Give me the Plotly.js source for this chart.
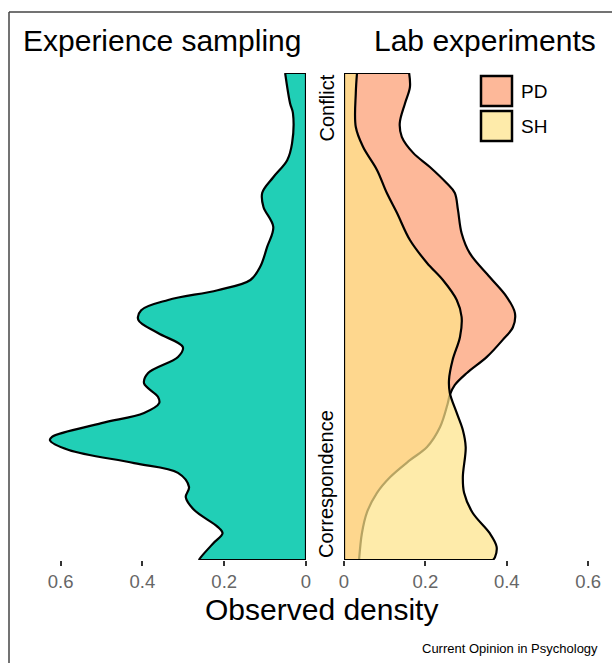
<!DOCTYPE html>
<html>
<head>
<meta charset="utf-8">
<script src="https://cdn.plot.ly/plotly-3.0.1.min.js"></script>
<style>html,body{margin:0;padding:0;background:#fff;}#chart{width:612px;height:663px;}</style>
</head>
<body>
<div id="chart"></div>
<script>
// Level axis: 0 = Correspondence (bottom), 1 = Conflict (top)
const esLevel = [1.000,0.938,0.918,0.856,0.821,0.786,0.754,0.725,0.684,0.643,0.602,0.575,0.554,0.534,0.513,0.493,0.466,0.437,0.417,0.384,0.363,0.335,0.322,0.302,0.281,0.253,0.246,0.226,0.199,0.179,0.150,0.129,0.103,0.068,0.055,0.035,0.006,0.000];
const esDensity = [0.051,0.039,0.032,0.034,0.046,0.080,0.107,0.104,0.080,0.095,0.112,0.136,0.216,0.337,0.403,0.410,0.362,0.301,0.313,0.386,0.396,0.362,0.359,0.396,0.500,0.621,0.626,0.580,0.420,0.313,0.286,0.294,0.274,0.216,0.204,0.226,0.257,0.262];

const pdLevel = [1.000,0.971,0.938,0.897,0.869,0.836,0.807,0.774,0.754,0.719,0.671,0.630,0.581,0.540,0.507,0.478,0.452,0.417,0.384,0.359,0.339,0.322,0.273,0.232,0.205,0.170,0.138,0.097,0.055,0.000];
const pdDensity = [0.160,0.162,0.150,0.137,0.142,0.170,0.211,0.252,0.272,0.280,0.289,0.309,0.358,0.400,0.420,0.415,0.390,0.351,0.302,0.272,0.260,0.255,0.236,0.204,0.162,0.113,0.081,0.056,0.044,0.037];

const shLevel = [1.000,0.959,0.889,0.848,0.801,0.754,0.713,0.657,0.610,0.575,0.534,0.499,0.458,0.411,0.370,0.343,0.302,0.267,0.232,0.170,0.138,0.097,0.055,0.027,0.006,0.000];
const shDensity = [0.032,0.029,0.029,0.047,0.081,0.105,0.130,0.162,0.204,0.243,0.277,0.289,0.285,0.267,0.258,0.260,0.277,0.292,0.299,0.292,0.295,0.316,0.358,0.375,0.371,0.366];

const tickVals = [0, 0.2, 0.4, 0.6];
const tickText = ["0", "0.2", "0.4", "0.6"];
const panelTitles = ["Experience sampling", "Lab experiments"];
const levelLabels = ["Conflict", "Correspondence"];
const groupNames = ["PD", "SH"];

const W = 612, H = 663;
const px = v => v / W;
const py = v => 1 - v / H;
const FONT = "Liberation Sans, Arial, Helvetica, sans-serif";

const teal = "rgb(33,207,182)";
const pdFill = "rgb(253,184,153)";
const shFill = "rgba(254,227,137,0.72)";

function curve(x, y, xa, fillcolor) {
  return {x: x, y: y, xaxis: xa, yaxis: "y", type: "scatter", mode: "lines",
    fill: "tozerox", fillcolor: fillcolor,
    line: {color: "#000", width: 2.2, shape: "spline", smoothing: 1},
    hoverinfo: "skip", showlegend: false};
}
function edges(x, y, xa) {
  return {x: [x[0], 0, 0, x[x.length - 1]], y: [y[0], y[0], y[y.length - 1], y[y.length - 1]],
    xaxis: xa, yaxis: "y", type: "scatter", mode: "lines",
    line: {color: "#000", width: 2.2}, hoverinfo: "skip", showlegend: false};
}

const data = [
  curve(esDensity, esLevel, "x", teal),
  edges(esDensity, esLevel, "x"),
  curve(pdDensity, pdLevel, "x2", pdFill),
  edges(pdDensity, pdLevel, "x2"),
  curve(shDensity, shLevel, "x2", shFill),
  edges(shDensity, shLevel, "x2")
];

const axisCommon = {
  tickmode: "array", tickvals: tickVals, ticktext: tickText,
  ticks: "outside", ticklen: 5, tickwidth: 2, tickcolor: "#333",
  tickfont: {family: FONT, size: 18.5, color: "#666"},
  showgrid: false, zeroline: false, showline: false, fixedrange: true,
  anchor: "y"
};

const layout = {
  width: W, height: H,
  margin: {l: 0, r: 0, t: 0, b: 0, autoexpand: false},
  paper_bgcolor: "#fff", plot_bgcolor: "rgba(0,0,0,0)",
  showlegend: false, hovermode: false,
  xaxis: Object.assign({}, axisCommon, {domain: [px(30), px(306)], range: [276 / 409, 0]}),
  xaxis2: Object.assign({}, axisCommon, {domain: [px(344), px(605)], range: [0, 261 / 407]}),
  yaxis: {domain: [py(560), py(73)], range: [0, 1], showticklabels: false, showgrid: false,
    zeroline: false, showline: false, ticks: "", anchor: "x", fixedrange: true},
  shapes: [
    {type: "line", xref: "paper", yref: "paper", x0: px(9), x1: 1, y0: py(12), y1: py(12), line: {color: "#444", width: 1.5}},
    {type: "line", xref: "paper", yref: "paper", x0: px(9), x1: px(9), y0: py(12), y1: 0, line: {color: "#444", width: 1.5}},
    {type: "rect", xref: "paper", yref: "paper", x0: px(481), x1: px(512), y0: py(76), y1: py(106), fillcolor: pdFill, line: {color: "#000", width: 2.5}},
    {type: "rect", xref: "paper", yref: "paper", x0: px(481), x1: px(512), y0: py(111), y1: py(141), fillcolor: "rgb(254,235,170)", line: {color: "#000", width: 2.5}}
  ],
  annotations: [
    {text: panelTitles[0], xref: "paper", yref: "paper", x: px(162), y: py(40), xanchor: "center", yanchor: "middle", showarrow: false, font: {family: FONT, size: 30, color: "#000"}},
    {text: panelTitles[1], xref: "paper", yref: "paper", x: px(485), y: py(40), xanchor: "center", yanchor: "middle", showarrow: false, font: {family: FONT, size: 30, color: "#000"}},
    {text: "Observed density", xref: "paper", yref: "paper", x: px(321), y: py(609), xanchor: "center", yanchor: "middle", showarrow: false, font: {family: FONT, size: 30, color: "#000"}},
    {text: levelLabels[0], xref: "paper", yref: "y", x: px(326), y: 1, xanchor: "center", yanchor: "top", textangle: -90, showarrow: false, font: {family: FONT, size: 20, color: "#000"}},
    {text: levelLabels[1], xref: "paper", yref: "y", x: px(326), y: 0, xanchor: "center", yanchor: "bottom", textangle: -90, showarrow: false, font: {family: FONT, size: 20, color: "#000"}},
    {text: groupNames[0], xref: "paper", yref: "paper", x: px(519), y: py(92), xanchor: "left", yanchor: "middle", showarrow: false, font: {family: FONT, size: 19, color: "#000"}},
    {text: groupNames[1], xref: "paper", yref: "paper", x: px(519), y: py(127), xanchor: "left", yanchor: "middle", showarrow: false, font: {family: FONT, size: 19, color: "#000"}},
    {text: "Current Opinion in Psychology", xref: "paper", yref: "paper", x: px(600), y: py(648), xanchor: "right", yanchor: "middle", showarrow: false, font: {family: FONT, size: 13, color: "#000"}}
  ]
};

Plotly.newPlot("chart", data, layout, {displayModeBar: false, staticPlot: true});
</script>
</body>
</html>
